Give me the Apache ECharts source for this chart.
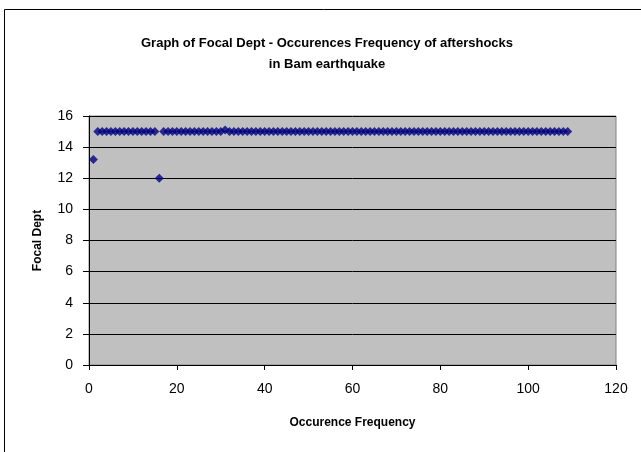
<!DOCTYPE html>
<html>
<head>
<meta charset="utf-8">
<script src="https://cdn.jsdelivr.net/npm/echarts@6/dist/echarts.min.js"></script>
<style>
  html, body { margin: 0; padding: 0; background: #fff; }
  #map { width: 641px; height: 452px; }
</style>
</head>
<body>
<div id="map"></div>
<script>
// occurence frequency (x) and focal depth (y)
var frequency = [
  1, 2, 3, 4, 5, 6, 7, 8, 9, 10, 11, 12, 13, 14, 15, 16, 17, 18, 19, 20,
  21, 22, 23, 24, 25, 26, 27, 28, 29, 30, 31, 32, 33, 34, 35, 36, 37, 38, 39, 40,
  41, 42, 43, 44, 45, 46, 47, 48, 49, 50, 51, 52, 53, 54, 55, 56, 57, 58, 59, 60,
  61, 62, 63, 64, 65, 66, 67, 68, 69, 70, 71, 72, 73, 74, 75, 76, 77, 78, 79, 80,
  81, 82, 83, 84, 85, 86, 87, 88, 89, 90, 91, 92, 93, 94, 95, 96, 97, 98, 99, 100,
  101, 102, 103, 104, 105, 106, 107, 108, 109
];
var focalDepth = [
  13.2, 15, 15, 15, 15, 15, 15, 15, 15, 15, 15, 15, 15, 15, 15, 12, 15, 15, 15, 15,
  15, 15, 15, 15, 15, 15, 15, 15, 15, 15, 15.1, 15, 15, 15, 15, 15, 15, 15, 15, 15,
  15, 15, 15, 15, 15, 15, 15, 15, 15, 15, 15, 15, 15, 15, 15, 15, 15, 15, 15, 15,
  15, 15, 15, 15, 15, 15, 15, 15, 15, 15, 15, 15, 15, 15, 15, 15, 15, 15, 15, 15,
  15, 15, 15, 15, 15, 15, 15, 15, 15, 15, 15, 15, 15, 15, 15, 15, 15, 15, 15, 15,
  15, 15, 15, 15, 15, 15, 15, 15, 15
];

var chartDom = document.getElementById('map');
var scatter = echarts.init(chartDom);
var option;

var points = [];
for (var i = 0; i < frequency.length; i++) {
    points.push([frequency[i], focalDepth[i]]);
}

var font = 'Arial, "Liberation Sans", sans-serif';

option = {
    animation: false,
    backgroundColor: '#fff',
    textStyle: { fontFamily: font },
    graphic: [
        {
            // chart area border
            type: 'rect',
            shape: { x: 4.5, y: 9.5, width: 700, height: 500 },
            style: { fill: 'none', stroke: '#000', lineWidth: 1 },
            silent: true
        }
    ],
    title: {
        text: 'Graph of Focal Dept - Occurences Frequency of aftershocks\nin Bam earthquake',
        left: 322,
        top: 28,
        textAlign: 'center',
        textStyle: {
            fontFamily: font,
            fontSize: 13,
            fontWeight: 'bold',
            color: '#000',
            lineHeight: 21
        }
    },
    grid: {
        left: 89,
        right: 25,
        top: 116,
        bottom: 87,
        show: true,
        backgroundColor: '#c0c0c0',
        borderColor: '#808080',
        borderWidth: 1
    },
    xAxis: {
        type: 'value',
        min: 0,
        max: 120,
        interval: 20,
        name: 'Occurence Frequency',
        nameLocation: 'middle',
        nameGap: 52,
        nameTextStyle: { fontFamily: font, fontSize: 12, fontWeight: 'bold', color: '#000' },
        axisLine: { show: true, lineStyle: { color: '#000', width: 1 } },
        axisTick: { show: true, inside: false, length: 5, lineStyle: { color: '#000' } },
        axisLabel: { color: '#000', fontSize: 14, margin: 17, fontFamily: font },
        splitLine: { show: false }
    },
    yAxis: {
        type: 'value',
        min: 0,
        max: 16,
        interval: 2,
        name: 'Focal Dept',
        nameLocation: 'middle',
        nameGap: 45,
        nameRotate: 90,
        nameTextStyle: { fontFamily: font, fontSize: 12, fontWeight: 'bold', color: '#000' },
        axisLine: { show: true, lineStyle: { color: '#000', width: 1 } },
        axisTick: { show: true, inside: false, length: 6, lineStyle: { color: '#000' } },
        axisLabel: { color: '#000', fontSize: 14, margin: 16, fontFamily: font },
        splitLine: { show: true, lineStyle: { color: '#000', width: 1 } }
    },
    series: [
        {
            type: 'scatter',
            data: points,
            symbol: 'diamond',
            symbolSize: 9,
            itemStyle: { color: '#000080' }
        }
    ]
};

option && scatter.setOption(option);
</script>
</body>
</html>
